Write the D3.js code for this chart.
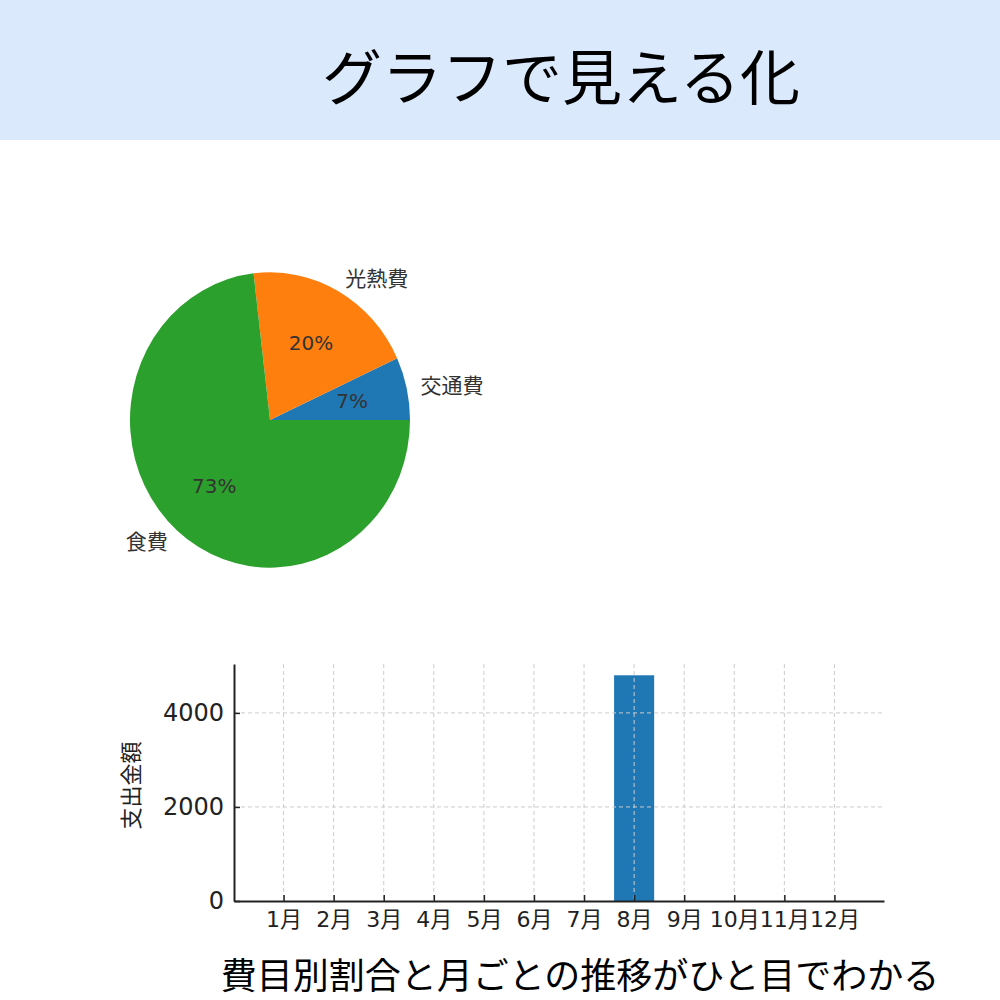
<!DOCTYPE html>
<html>
<head>
<meta charset="utf-8">
<script src="https://cdn.jsdelivr.net/npm/d3@7"></script>
<style>
  body { margin: 0; background: #fff; }
  svg { display: block; }
  .jp { font-family: "Noto Sans CJK JP", "Noto Sans", sans-serif; }
  .mix { font-family: "DejaVu Sans", "Noto Sans CJK JP", sans-serif; }
  .num { font-family: "DejaVu Sans", sans-serif; }
</style>
</head>
<body>
<div id="chart"></div>
<script>
// chart data
var titleText = "グラフで見える化";
var captionText = "費目別割合と月ごとの推移がひと目でわかる";

var pieLabels = ["交通費", "光熱費", "食費"];
var pieValues = [330, 960, 3510];
var pieColors = ["#1f77b4", "#ff7f0e", "#2ca02c"];

var months = ["1月", "2月", "3月", "4月", "5月", "6月", "7月", "8月", "9月", "10月", "11月", "12月"];
var monthTotals = [0, 0, 0, 0, 0, 0, 0, 4800, 0, 0, 0, 0];
var yTicks = [0, 2000, 4000];
var yLabel = "支出金額";

var svgWidth = 1000;
var svgHeight = 1000;

var svg = d3.select("#chart")
  .append("svg")
  .attr("width", svgWidth)
  .attr("height", svgHeight);

// header band
svg.append("rect")
  .attr("x", 0).attr("y", 0)
  .attr("width", svgWidth).attr("height", 140)
  .attr("fill", "#dbe9fc");

svg.append("text")
  .attr("class", "jp")
  .attr("x", 561).attr("y", 100)
  .attr("text-anchor", "middle")
  .attr("font-size", 60)
  .attr("fill", "#000")
  .text(titleText);

// ---- pie (matplotlib style: start at 3 o'clock, counterclockwise) ----
var cx = 270, cy = 420, r = 140, stretch = 1.055;

var pie = d3.pie()
  .sort(null)
  .startAngle(Math.PI / 2)
  .endAngle(Math.PI / 2 - 2 * Math.PI);

var arcs = pie(pieValues);
var total = d3.sum(pieValues);

var arc = d3.arc().innerRadius(0).outerRadius(r);
var pctArc = d3.arc().innerRadius(r * 0.6).outerRadius(r * 0.6);
var labelArc = d3.arc().innerRadius(r * 1.1).outerRadius(r * 1.1);

svg.append("g")
  .attr("transform", `translate(${cx}, ${cy}) scale(1, ${stretch})`)
  .selectAll("path")
  .data(arcs)
  .enter()
  .append("path")
  .attr("d", arc)
  .attr("fill", (d, i) => pieColors[i]);

// percent labels
svg.selectAll(".pct")
  .data(arcs)
  .enter()
  .append("text")
  .attr("class", "pct num")
  .attr("x", d => cx + pctArc.centroid(d)[0])
  .attr("y", d => cy + pctArc.centroid(d)[1] * stretch)
  .attr("dy", "0.35em")
  .attr("text-anchor", "middle")
  .attr("font-size", 20)
  .attr("fill", "#333")
  .text(d => Math.round(d.value / total * 100) + "%");

// category labels
svg.selectAll(".plabel")
  .data(arcs)
  .enter()
  .append("text")
  .attr("class", "plabel jp")
  .attr("x", d => cx + labelArc.centroid(d)[0])
  .attr("y", d => cy + labelArc.centroid(d)[1] * stretch)
  .attr("dy", "0.35em")
  .attr("text-anchor", d => labelArc.centroid(d)[0] >= 0 ? "start" : "end")
  .attr("font-size", 21)
  .attr("fill", "#333")
  .text((d, i) => pieLabels[i]);

// ---- bar chart ----
var plot = { left: 234, right: 884, top: 664, bottom: 901 };

var xScale = d3.scaleLinear()
  .domain([-0.99, months.length - 1 + 0.99])
  .range([plot.left, plot.right]);

var yScale = d3.scaleLinear()
  .domain([0, d3.max(monthTotals) * 1.05])
  .range([plot.bottom, plot.top]);

var barChart = svg.append("g");

// bars
barChart.selectAll("rect")
  .data(monthTotals)
  .enter()
  .append("rect")
  .attr("x", (d, i) => xScale(i - 0.4))
  .attr("width", xScale(0.8) - xScale(0))
  .attr("y", d => yScale(d))
  .attr("height", d => yScale(0) - yScale(d))
  .attr("fill", "#1f77b4");

// grid on top of bars
var grid = barChart.append("g")
  .attr("stroke", "#cccccc")
  .attr("stroke-width", 1)
  .attr("stroke-dasharray", "4,3");

grid.selectAll(".vgrid")
  .data(months)
  .enter()
  .append("line")
  .attr("x1", (d, i) => xScale(i))
  .attr("x2", (d, i) => xScale(i))
  .attr("y1", plot.top)
  .attr("y2", plot.bottom);

grid.selectAll(".hgrid")
  .data(yTicks.filter(t => t > 0))
  .enter()
  .append("line")
  .attr("x1", plot.left)
  .attr("x2", plot.right)
  .attr("y1", d => yScale(d))
  .attr("y2", d => yScale(d));

// axes with inward ticks
var bottomAxis = d3.axisBottom(xScale)
  .tickValues(d3.range(months.length))
  .tickFormat(i => months[i])
  .tickSizeInner(-6)
  .tickSizeOuter(0)
  .tickPadding(8);

var leftAxis = d3.axisLeft(yScale)
  .tickValues(yTicks)
  .tickFormat(d3.format("d"))
  .tickSizeInner(-6)
  .tickSizeOuter(0)
  .tickPadding(10);

var xAxis = barChart.append("g")
  .attr("transform", `translate(0, ${plot.bottom})`)
  .call(bottomAxis);

xAxis.select(".domain").attr("stroke", "#222").attr("stroke-width", 2);
xAxis.selectAll(".tick line").attr("stroke", "#222").attr("stroke-width", 1.5);
xAxis.selectAll(".tick text")
  .attr("class", "mix")
  .attr("font-size", 22)
  .attr("fill", "#222")
  .attr("dy", "0.8em");

var yAxis = barChart.append("g")
  .attr("transform", `translate(${plot.left}, 0)`)
  .call(leftAxis);

yAxis.select(".domain").attr("stroke", "#222").attr("stroke-width", 2);
yAxis.selectAll(".tick line").attr("stroke", "#222").attr("stroke-width", 1.5);
yAxis.selectAll(".tick text")
  .attr("class", "num")
  .attr("font-size", 24)
  .attr("fill", "#222");

// y label
barChart.append("text")
  .attr("class", "jp")
  .attr("transform", `translate(131, ${(plot.top + plot.bottom) / 2 + 3}) rotate(-90)`)
  .attr("text-anchor", "middle")
  .attr("dy", "0.35em")
  .attr("font-size", 22)
  .attr("fill", "#222")
  .text(yLabel);

// caption
svg.append("text")
  .attr("class", "jp")
  .attr("x", 580).attr("y", 989)
  .attr("text-anchor", "middle")
  .attr("font-size", 36)
  .attr("fill", "#000")
  .text(captionText);
</script>
</body>
</html>
